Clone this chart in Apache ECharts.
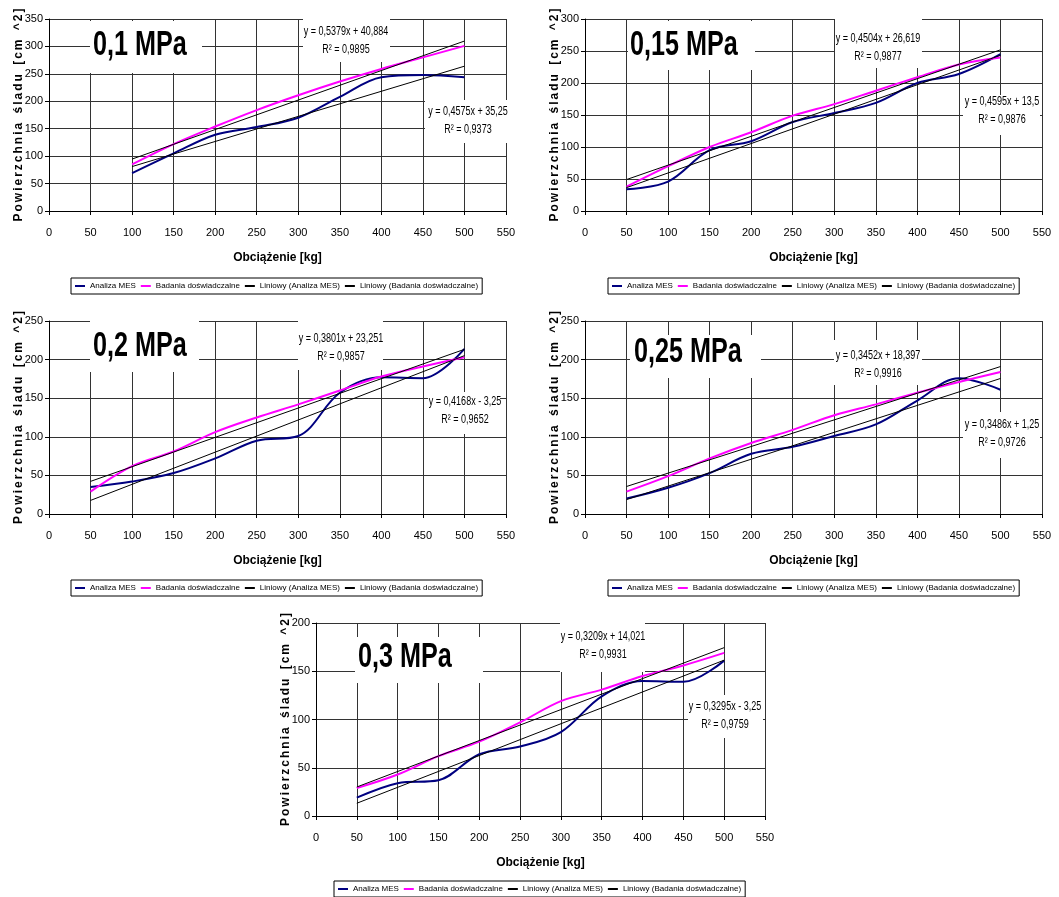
<!DOCTYPE html>
<html>
<head>
<meta charset="utf-8">
<script src="https://cdn.jsdelivr.net/npm/echarts@6/dist/echarts.min.js"></script>
<style>
html,body{margin:0;padding:0;background:#fff;}
#chart{width:1059px;height:897px;}
</style>
</head>
<body>
<div id="chart"></div>
<script>
// ---------- data ----------
const panelLabels = ['0,1 MPa', '0,15 MPa', '0,2 MPa', '0,25 MPa', '0,3 MPa'];
const xTicks = [0, 50, 100, 150, 200, 250, 300, 350, 400, 450, 500, 550];
const yMax = [350, 300, 250, 250, 200];

const loads1 = [100, 150, 200, 250, 300, 350, 400, 450, 500];
const loads = [50, 100, 150, 200, 250, 300, 350, 400, 450, 500];
const xValues = [loads1, loads, loads, loads, loads];

const mesValues = [
  [69, 105, 139, 153, 170, 208, 244, 248, 244],
  [34, 46, 95, 109, 139, 153, 169, 200, 214, 245],
  [35, 42, 53, 72, 95, 101, 157, 177, 176, 214],
  [20, 34, 53, 78, 87, 101, 116, 147, 176, 161],
  [19, 34, 37, 64, 72, 87, 124, 140, 139, 161]
];
const expValues = [
  [85, 122, 154, 184, 211, 236, 259, 280, 301],
  [38, 70, 100, 123, 149, 167, 188, 209, 229, 240],
  [29, 62, 81, 106, 125, 142, 160, 178, 191, 203],
  [29, 49, 72, 92, 109, 128, 142, 157, 171, 184],
  [29, 43, 62, 77, 97, 119, 131, 145, 156, 169]
];
// linear trendlines (as printed on the chart)
const mesSlope = [0.4575, 0.4595, 0.4168, 0.3486, 0.3295];
const mesIntercept = [35.25, 13.5, -3.25, 1.25, -3.25];
const mesR2 = [0.9373, 0.9876, 0.9652, 0.9726, 0.9759];
const expSlope = [0.5379, 0.4504, 0.3801, 0.3452, 0.3209];
const expIntercept = [40.884, 26.619, 23.251, 18.397, 14.021];
const expR2 = [0.9895, 0.9877, 0.9857, 0.9916, 0.9931];

const names = ['Analiza MES', 'Badania doświadczalne', 'Liniowy (Analiza MES)', 'Liniowy (Badania doświadczalne)'];
const xTitle = 'Obciążenie [kg]';
const yTitle = 'Powierzchnia śladu [cm ^2]';

// ---------- layout ----------
const FONT = '"Liberation Sans", Arial, sans-serif';
const grids = [
  {left: 49, top: 19, width: 457, height: 192},
  {left: 585, top: 19, width: 457, height: 192},
  {left: 49, top: 321, width: 457, height: 193},
  {left: 585, top: 321, width: 457, height: 193},
  {left: 316, top: 623, width: 449, height: 193}
];
const legendCenter = [[277, 278], [814, 278], [277, 580], [814, 580], [540, 881]];
const labelBoxes = [[90, 21, 112, 52], [628, 21, 127, 49], [90, 319, 109, 53], [630, 335, 131, 43], [355, 637, 128, 46]];
const labelText = [[93, 45], [630, 45], [93, 346], [634, 352], [358, 657]];
const eqBoxA = [[303, 19, 87, 43], [835, 19, 87, 49], [298, 321, 85, 49], [834, 340, 88, 45], [560, 623, 85, 49]];
const eqCenterA = [[346, 41], [878, 48], [341, 348], [878, 365], [603, 646]];
const eqBoxB = [[425, 100, 85, 43], [963, 95, 77, 40], [428, 392, 72, 42], [963, 412, 77, 46], [688, 695, 75, 43]];
const eqCenterB = [[468, 121], [1002, 111], [465, 411], [1002, 434], [725, 716]];

const LEG_FS = 8, LEG_IW = 10, LEG_GAP = 5, LEG_PAD = 4;
const mctx = document.createElement('canvas').getContext('2d');
mctx.font = LEG_FS + 'px ' + FONT;
const legendWidth = LEG_PAD * 2 + names.reduce((s, n) => s + mctx.measureText(n).width + LEG_IW + 5, 0) + LEG_GAP * (names.length - 1);

function fmt(v) { return String(v).replace('.', ','); }
function eqText(a, b, r2) {
  return 'y = ' + fmt(a) + 'x ' + (b < 0 ? '- ' : '+ ') + fmt(Math.abs(b)) + '\nR² = ' + fmt(r2);
}
function spaced(t) {
  return t.split('').map(c => c === ' ' ? '{w| }' : '{s|' + c + '}').join('');
}

const option = {
  animation: false,
  backgroundColor: '#fff',
  textStyle: {fontFamily: FONT, color: '#000'},
  grid: grids.map(g => Object.assign({containLabel: false}, g)),
  xAxis: [], yAxis: [], series: [], legend: [], graphic: []
};

for (let i = 0; i < 5; i++) {
  option.xAxis.push({
    type: 'value', gridIndex: i, min: xTicks[0], max: xTicks[xTicks.length - 1], interval: 50,
    name: xTitle, nameLocation: 'middle', nameGap: 41, nameMoveOverlap: false,
    nameTextStyle: {fontFamily: FONT, fontWeight: 'bold', fontSize: 12, color: '#000'},
    axisLine: {onZero: false, lineStyle: {color: '#000', width: 1}},
    axisTick: {show: true, inside: false, length: 4, lineStyle: {color: '#000'}},
    axisLabel: {fontFamily: FONT, fontSize: 11, color: '#000', margin: 16},
    splitLine: {show: true, lineStyle: {color: '#333', width: 1}}
  });
  option.yAxis.push({
    type: 'value', gridIndex: i, min: 0, max: yMax[i], interval: 50,
    name: spaced(yTitle), nameLocation: 'middle', nameGap: 24, nameRotate: 90, nameMoveOverlap: false,
    nameTextStyle: {
      fontFamily: FONT, fontWeight: 'bold', fontSize: 12, color: '#000',
      rich: {
        s: {fontFamily: FONT, fontWeight: 'bold', fontSize: 12, color: '#000', padding: [0, 1, 0, 1]},
        w: {fontFamily: FONT, fontWeight: 'bold', fontSize: 12, color: '#000', padding: [0, 2, 0, 2]}
      }
    },
    axisLine: {show: true, onZero: false, lineStyle: {color: '#000', width: 1}},
    axisTick: {show: true, inside: false, length: 4, lineStyle: {color: '#000'}},
    axisLabel: {fontFamily: FONT, fontSize: 11, color: '#000', margin: 6},
    splitLine: {show: true, lineStyle: {color: '#333', width: 1}}
  });

  const xs = xValues[i];
  const x0 = xs[0], x1 = xs[xs.length - 1];
  option.series.push({
    name: names[0], type: 'line', xAxisIndex: i, yAxisIndex: i, smooth: 0.35, symbol: 'none',
    lineStyle: {color: '#000080', width: 2}, itemStyle: {color: '#000080'}, z: 3,
    data: xs.map((x, k) => [x, mesValues[i][k]])
  });
  option.series.push({
    name: names[1], type: 'line', xAxisIndex: i, yAxisIndex: i, smooth: 0.35, symbol: 'none',
    lineStyle: {color: '#ff00ff', width: 2}, itemStyle: {color: '#ff00ff'}, z: 3,
    data: xs.map((x, k) => [x, expValues[i][k]])
  });
  option.series.push({
    name: names[2], type: 'line', xAxisIndex: i, yAxisIndex: i, symbol: 'none',
    lineStyle: {color: '#000', width: 1}, itemStyle: {color: '#000'}, z: 4,
    data: [[x0, mesSlope[i] * x0 + mesIntercept[i]], [x1, mesSlope[i] * x1 + mesIntercept[i]]]
  });
  option.series.push({
    name: names[3], type: 'line', xAxisIndex: i, yAxisIndex: i, symbol: 'none',
    lineStyle: {color: '#000', width: 1}, itemStyle: {color: '#000'}, z: 4,
    data: [[x0, expSlope[i] * x0 + expIntercept[i]], [x1, expSlope[i] * x1 + expIntercept[i]]]
  });

  option.legend.push({
    data: names, left: Math.round(legendCenter[i][0] - legendWidth / 2), top: legendCenter[i][1], orient: 'horizontal',
    icon: 'rect', itemWidth: LEG_IW, itemHeight: 2, itemGap: LEG_GAP,
    borderColor: '#000', borderWidth: 1, padding: [4, LEG_PAD, 4, LEG_PAD], backgroundColor: '#fff',
    textStyle: {fontFamily: FONT, fontSize: LEG_FS, color: '#000'},
    selectedMode: false
  });

  const lb = labelBoxes[i];
  option.graphic.push({type: 'rect', z: 1, silent: true, shape: {x: lb[0], y: lb[1], width: lb[2], height: lb[3]}, style: {fill: '#fff'}});
  option.graphic.push({type: 'text', z: 1, silent: true, x: labelText[i][0], y: labelText[i][1], scaleX: 0.72,
    style: {text: panelLabels[i], font: 'bold 35px ' + FONT, fill: '#000', align: 'left', verticalAlign: 'middle'}});

  const a = eqBoxA[i], b = eqBoxB[i];
  option.graphic.push({type: 'rect', z: 1, silent: true, shape: {x: a[0], y: a[1], width: a[2], height: a[3]}, style: {fill: '#fff'}});
  option.graphic.push({type: 'text', z: 1, silent: true, x: eqCenterA[i][0], y: eqCenterA[i][1], scaleX: 0.75,
    style: {text: eqText(expSlope[i], expIntercept[i], expR2[i]), font: '12px ' + FONT, lineHeight: 18, fill: '#000', align: 'center', verticalAlign: 'middle'}});
  option.graphic.push({type: 'rect', z: 1, silent: true, shape: {x: b[0], y: b[1], width: b[2], height: b[3]}, style: {fill: '#fff'}});
  option.graphic.push({type: 'text', z: 1, silent: true, x: eqCenterB[i][0], y: eqCenterB[i][1], scaleX: 0.75,
    style: {text: eqText(mesSlope[i], mesIntercept[i], mesR2[i]), font: '12px ' + FONT, lineHeight: 18, fill: '#000', align: 'center', verticalAlign: 'middle'}});
}

const chart = echarts.init(document.getElementById('chart'), null, {renderer: 'canvas'});
chart.setOption(option);
</script>
</body>
</html>
